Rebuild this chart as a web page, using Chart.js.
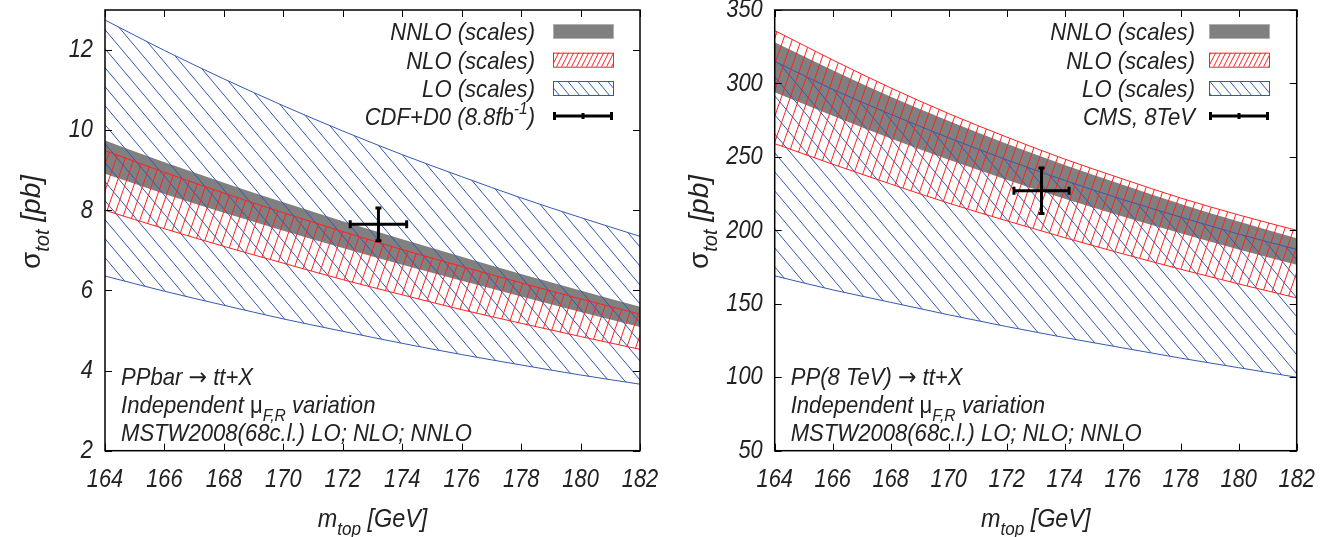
<!DOCTYPE html>
<html><head><meta charset="utf-8">
<script src="https://cdn.jsdelivr.net/npm/chart.js@4/dist/chart.umd.min.js"></script>
<style>
html,body{margin:0;padding:0;background:#fff;}
#wrap{position:relative;width:1324px;height:537px;overflow:hidden;}
.cv{position:absolute;top:0;}
</style></head><body>
<div id="wrap">
<canvas id="c1" class="cv" width="662" height="537" style="left:0"></canvas>
<canvas id="c2" class="cv" width="662" height="537" style="left:662px"></canvas>
</div>
<script>
// ---------- DATA ----------
const mTop = [164,166,168,170,172,174,176,178,180,182];

// Tevatron (PPbar), sigma_tot [pb]
const tevLOHigh   = [12.75,11.99,11.28,10.61,9.98,9.39,8.84,8.31,7.82,7.35];
const tevLOLow    = [6.36,5.98,5.63,5.29,4.98,4.68,4.40,4.14,3.89,3.66];
const tevNLOHigh  = [9.49,8.95,8.43,7.94,7.47,7.02,6.60,6.19,5.79,5.41];
const tevNLOLow   = [8.00,7.54,7.10,6.68,6.27,5.89,5.52,5.18,4.85,4.53];
const tevNNLOHigh = [9.74,9.20,8.69,8.20,7.73,7.28,6.84,6.41,6.00,5.59];
const tevNNLOLow  = [8.91,8.41,7.94,7.49,7.06,6.64,6.24,5.85,5.46,5.09];
const tevMeasX = [173.2], tevMeasXErr = [0.95];
const tevMeasY = [7.65],  tevMeasYErr = [0.41];
const tevYTicks = {min:2, max:13, step:2};

// LHC 8 TeV (PP), sigma_tot [pb]
const lhcLOHigh   = [315,296,279,263,248,234,221,209,197.5,187];
const lhcLOLow    = [169,159.5,151,142.5,134.5,127,120,113,106.5,100];
const lhcNLOHigh  = [336,316,297,279.5,263.5,248.5,235,222,210.5,200];
const lhcNLOLow   = [259,245,231.5,218.5,206.5,195,184,173.5,163.5,154];
const lhcNNLOHigh = [328,309,291,274.5,259,244.5,231,218,206,194.6];
const lhcNNLOLow  = [294,278,262.5,248,234.5,221.5,209.5,198,187,176.5];
const lhcMeasX = [173.2], lhcMeasXErr = [0.95];
const lhcMeasY = [227],   lhcMeasYErr = [15.5];
const lhcYTicks = {min:50, max:350, step:50};

const legendTev = [
  [{t:'NNLO (scales)'}],
  [{t:'NLO (scales)'}],
  [{t:'LO (scales)'}],
  [{t:'CDF+D0 (8.8fb'},{t:'-1',s:'sup'},{t:')'}]
];
const legendLhc = [
  [{t:'NNLO (scales)'}],
  [{t:'NLO (scales)'}],
  [{t:'LO (scales)'}],
  [{t:'CMS, 8TeV'}]
];
const annotTev = [
  [{t:'PPbar '},{t:'\u2192',up:true},{t:' tt+X'}],
  [{t:'Independent '},{t:'\u03bc',up:true},{t:'F,R',s:'sub'},{t:' variation'}],
  [{t:'MSTW2008(68c.l.) LO; NLO; NNLO'}]
];
const annotLhc = [
  [{t:'PP(8 TeV) '},{t:'\u2192',up:true},{t:' tt+X'}],
  [{t:'Independent '},{t:'\u03bc',up:true},{t:'F,R',s:'sub'},{t:' variation'}],
  [{t:'MSTW2008(68c.l.) LO; NLO; NNLO'}]
];
const yTitle = [{t:'\u03c3',up:true},{t:'tot',s:'sub'},{t:' [pb]'}];
const xTitle = [{t:'m'},{t:'top',s:'sub'},{t:' [GeV]'}];

// ---------- STYLE ----------
const FAM = "'Liberation Sans','Helvetica','Arial',sans-serif";
const SYMFAM = "'DejaVu Sans',sans-serif";
const TXT = '#222';
const GRAY = '#808080';
const RED = '#ff2020';
const BLUE = '#3558b0';
const TICK_SX = 0.84;   // horizontal condensing of the tick label font

const ctxTmp = document.createElement('canvas').getContext('2d');
function pat(color,w,h,dir,lw){
  const c = document.createElement('canvas'); c.width=w; c.height=h;
  const g = c.getContext('2d');
  g.strokeStyle=color; g.lineWidth=lw; g.beginPath();
  for(let n=-1;n<=1;n++){
    if(dir==='down'){ g.moveTo(n*w,0); g.lineTo(n*w+w,h); }
    else { g.moveTo(n*w,h); g.lineTo(n*w+w,0); }
  }
  g.stroke();
  return ctxTmp.createPattern(c,'repeat');
}
const loPat  = pat(BLUE, 16, 19, 'down', 1);
const nloPat = pat(RED, 9, 26, 'up', 1);
const loPatLeg  = pat(BLUE, 10, 12, 'down', 1);
const nloPatLeg = pat(RED, 5, 10, 'up', 1);

function drawRich(ctx, segs, x, y, size, align, sx){
  const fontFor = s => {
    const fam = s.t === '\u2192' ? SYMFAM : FAM;
    return (s.up?'':'italic ') + (s.s? Math.round(size*0.72): size) + 'px ' + fam;
  };
  let total=0;
  for(const s of segs){ ctx.font=fontFor(s); total+=ctx.measureText(s.t).width; }
  ctx.save();
  ctx.translate(x,y); ctx.scale(sx||1,1);
  let cx = align==='right'? -total : align==='center'? -total/2 : 0;
  ctx.textAlign='left'; ctx.textBaseline='alphabetic';
  for(const s of segs){
    ctx.font=fontFor(s);
    const dy = s.s==='sub'? size*0.32 : s.s==='sup'? -size*0.45 : 0;
    ctx.fillText(s.t, cx, dy);
    cx += ctx.measureText(s.t).width;
  }
  ctx.restore();
}

// condense the library's own tick labels horizontally
const condensePlugin = {
  id:'condense',
  beforeDraw(chart){
    Object.values(chart.scales).forEach(s=>{
      if(s._condensed) return;
      const orig = s.drawLabels.bind(s);
      s.drawLabels = function(area){
        const ctx=this.ctx, of=ctx.fillText;
        ctx.fillText = function(t,x,y,mw){
          ctx.save(); ctx.translate(x,y); ctx.scale(TICK_SX,1);
          if(mw===undefined) of.call(ctx,t,0,0); else of.call(ctx,t,0,0,mw/TICK_SX);
          ctx.restore();
        };
        try{ orig(area); } finally { ctx.fillText = of; }
      };
      s._condensed = true;
    });
  }
};

function pts(arr){ return mTop.map((m,i)=>({x:m,y:arr[i]})); }

function makeChart(id, d){
  const line = (data, color, extra) => Object.assign({
    data: pts(data), borderColor: color, borderWidth: 1, pointRadius: 0,
    cubicInterpolationMode:'monotone', fill:false
  }, extra||{});
  const datasets = [
    line(d.nnloLow, 'rgba(0,0,0,0)', {borderWidth:0, order:6}),
    line(d.nnloHigh,'rgba(0,0,0,0)', {borderWidth:0, order:5, fill:'-1', backgroundColor:GRAY}),
    line(d.loLow, BLUE, {order:4}),
    line(d.loHigh, BLUE, {order:3, fill:'-1', backgroundColor:loPat}),
    line(d.nloLow, RED, {order:2}),
    line(d.nloHigh, RED, {order:1, fill:'-1', backgroundColor:nloPat}),
    {data: d.measX.map((x,i)=>({x, y:d.measY[i]})), showLine:false, pointRadius:0, borderColor:'#000', order:0}
  ];

  const framePlugin = {
    id:'frame',
    afterDatasetsDraw(chart){
      const {ctx, scales} = chart;
      ctx.save();
      ctx.strokeStyle='#000'; ctx.lineWidth=3; ctx.lineCap='butt';
      d.measX.forEach((mx,i)=>{
        const xs=scales.x, ys=scales.y;
        const px=xs.getPixelForValue(mx), py=ys.getPixelForValue(d.measY[i]);
        const x1=xs.getPixelForValue(mx-d.measXErr[i]), x2=xs.getPixelForValue(mx+d.measXErr[i]);
        const y1=ys.getPixelForValue(d.measY[i]+d.measYErr[i]), y2=ys.getPixelForValue(d.measY[i]-d.measYErr[i]);
        ctx.beginPath();
        ctx.moveTo(x1,py); ctx.lineTo(x2,py);
        ctx.moveTo(px,y1); ctx.lineTo(px,y2);
        ctx.moveTo(x1,py-4); ctx.lineTo(x1,py+4);
        ctx.moveTo(x2,py-4); ctx.lineTo(x2,py+4);
        ctx.moveTo(px-3,y1); ctx.lineTo(px+3,y1);
        ctx.moveTo(px-3,y2); ctx.lineTo(px+3,y2);
        ctx.stroke();
      });
      ctx.restore();
    },
    afterDraw(chart){
      const {ctx, chartArea:a, scales} = chart;
      ctx.save();
      ctx.strokeStyle='#000'; ctx.lineWidth=1.5;
      ctx.strokeRect(a.left, a.top, a.right-a.left, a.bottom-a.top);
      ctx.lineWidth=1;
      ctx.beginPath();
      scales.x.ticks.forEach(t=>{
        const px=Math.round(scales.x.getPixelForValue(t.value))+0.5;
        ctx.moveTo(px,a.bottom); ctx.lineTo(px,a.bottom-7);
        ctx.moveTo(px,a.top); ctx.lineTo(px,a.top+7);
      });
      scales.y.ticks.forEach(t=>{
        const py=Math.round(scales.y.getPixelForValue(t.value))+0.5;
        ctx.moveTo(a.left,py); ctx.lineTo(a.left+7,py);
        ctx.moveTo(a.right,py); ctx.lineTo(a.right-7,py);
      });
      ctx.stroke();

      // legend
      ctx.fillStyle=TXT;
      const rows=[31,59.7,88,116];
      d.legend.forEach((segs,i)=>drawRich(ctx, segs, d.legTextR, rows[i]+9, 24, 'right', 0.92));
      const bx=d.legBoxL, bw=60, bh=14;
      ctx.fillStyle=GRAY; ctx.fillRect(bx, rows[0]-bh/2, bw, bh);
      ctx.strokeStyle='#b0b0b0'; ctx.lineWidth=1; ctx.strokeRect(bx+0.5, rows[0]-bh/2+0.5, bw, bh);
      ctx.fillStyle=nloPatLeg; ctx.fillRect(bx, rows[1]-bh/2, bw, bh);
      ctx.strokeStyle=RED; ctx.strokeRect(bx+0.5, rows[1]-bh/2+0.5, bw, bh);
      ctx.fillStyle=loPatLeg; ctx.fillRect(bx, rows[2]-bh/2, bw, bh);
      ctx.strokeStyle=BLUE; ctx.strokeRect(bx+0.5, rows[2]-bh/2+0.5, bw, bh);
      ctx.strokeStyle='#000'; ctx.lineWidth=3;
      ctx.beginPath();
      ctx.moveTo(bx, rows[3]); ctx.lineTo(bx+bw, rows[3]);
      ctx.moveTo(bx+1.5, rows[3]-4); ctx.lineTo(bx+1.5, rows[3]+4);
      ctx.moveTo(bx+bw-1.5, rows[3]-4); ctx.lineTo(bx+bw-1.5, rows[3]+4);
      ctx.moveTo(bx+bw/2, rows[3]-3); ctx.lineTo(bx+bw/2, rows[3]+3);
      ctx.stroke();

      // annotation
      ctx.fillStyle=TXT;
      const al=a.left+16;
      [385,413,441].forEach((yy,i)=>drawRich(ctx, d.annot[i], al, yy, 24, 'left', 0.92));

      // axis titles
      drawRich(ctx, xTitle, (a.left+a.right)/2, 527, 26, 'center', 0.9);
      ctx.save();
      ctx.translate(d.yTitleX, 222); ctx.rotate(-Math.PI/2);
      drawRich(ctx, yTitle, 0, 0, 28, 'center', 1);
      ctx.restore();
      ctx.restore();
    }
  };

  return new Chart(document.getElementById(id), {
    type:'line',
    data:{datasets},
    options:{
      responsive:false, animation:false, devicePixelRatio:1,
      layout:{padding:{left:0, right:d.padRight, top:10, bottom:0}},
      plugins:{legend:{display:false}, tooltip:{enabled:false}, filler:{propagate:false}},
      scales:{
        x:{type:'linear', min:164, max:182,
           ticks:{stepSize:2, color:TXT, font:{family:FAM, size:26, style:'italic'}, padding:13, maxRotation:0, autoSkip:false},
           grid:{display:false, drawTicks:false}, border:{display:false},
           afterFit(s){ s.height = 537-450.7; s.paddingLeft=0; s.paddingRight=0; }},
        y:{type:'linear', min:d.yt.min, max:d.yt.max,
           ticks:{stepSize:d.yt.step, includeBounds:false, color:TXT, font:{family:FAM, size:26, style:'italic'}, padding:12},
           grid:{display:false, drawTicks:false}, border:{display:false},
           afterFit(s){ s.width = d.yAxisW; s.paddingTop=0; s.paddingBottom=0; }}
      }
    },
    plugins:[condensePlugin, framePlugin]
  });
}

makeChart('c1', {
  loHigh:tevLOHigh, loLow:tevLOLow, nloHigh:tevNLOHigh, nloLow:tevNLOLow, nnloHigh:tevNNLOHigh, nnloLow:tevNNLOLow,
  measX:tevMeasX, measY:tevMeasY, measXErr:tevMeasXErr, measYErr:tevMeasYErr, yt:tevYTicks,
  legend:legendTev, annot:annotTev, legTextR:535, legBoxL:553, yAxisW:105, padRight:22, yTitleX:40
});
makeChart('c2', {
  loHigh:lhcLOHigh, loLow:lhcLOLow, nloHigh:lhcNLOHigh, nloLow:lhcNLOLow, nnloHigh:lhcNNLOHigh, nnloLow:lhcNNLOLow,
  measX:lhcMeasX, measY:lhcMeasY, measXErr:lhcMeasXErr, measYErr:lhcMeasYErr, yt:lhcYTicks,
  legend:legendLhc, annot:annotLhc, legTextR:533, legBoxL:547, yAxisW:112.7, padRight:27.3, yTitleX:46
});
</script>
</body></html>
